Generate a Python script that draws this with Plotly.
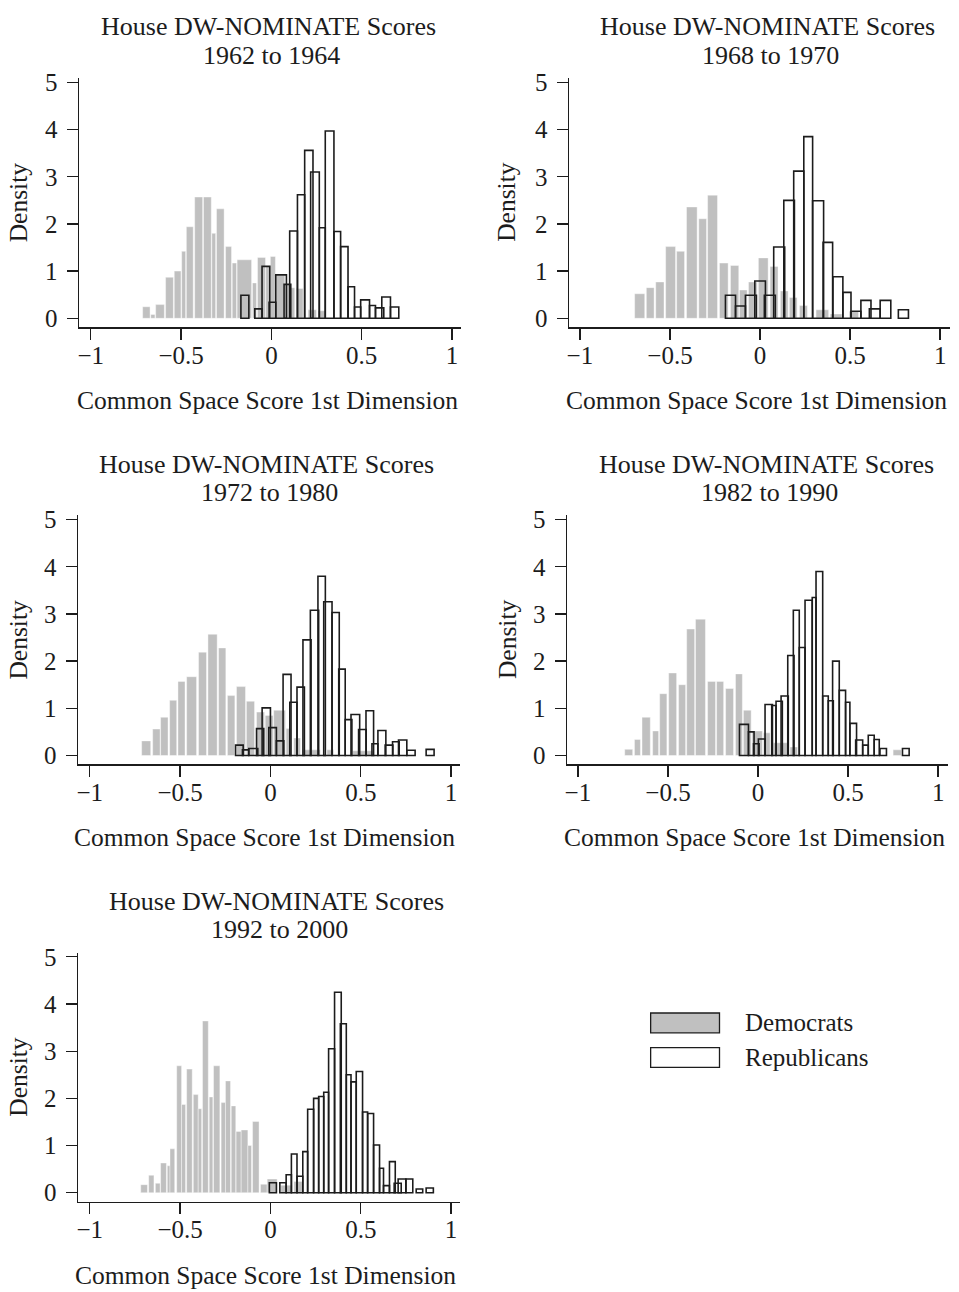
import plotly.graph_objects as go

W, H = 959, 1292
FONT = "Liberation Serif"
FS = 25
FS_TITLE = 26

TITLE = "House DW-NOMINATE Scores"
PERIODS = ["1962 to 1964", "1968 to 1970", "1972 to 1980", "1982 to 1990", "1992 to 2000"]
X_TITLE = "Common Space Score 1st Dimension"
Y_TITLE = "Density"
X_TICKS = [-1, -0.5, 0, 0.5, 1]
X_TICK_TEXT = ["\u22121", "\u22120.5", "0", "0.5", "1"]
Y_TICKS = [0, 1, 2, 3, 4, 5]
LEGEND_NAMES = ["Democrats", "Republicans"]

# (bin left, bin right, density)
DEM_1962 = [(-0.713, -0.672, 0.245), (-0.668, -0.645, 0.08), (-0.641, -0.593, 0.29), (-0.586, -0.543, 0.87),
            (-0.538, -0.501, 1.00), (-0.497, -0.475, 1.42), (-0.471, -0.433, 1.94), (-0.425, -0.381, 2.57),
            (-0.376, -0.333, 2.57), (-0.330, -0.309, 1.80), (-0.304, -0.262, 2.32), (-0.254, -0.221, 1.52),
            (-0.217, -0.193, 1.17), (-0.190, -0.110, 1.24), (-0.105, -0.083, 0.75), (-0.077, -0.033, 1.29),
            (-0.031, -0.006, 1.10), (-0.006, 0.022, 1.31), (0.026, 0.074, 0.91), (0.074, 0.101, 0.72),
            (0.101, 0.129, 0.65), (0.138, 0.175, 0.63), (0.203, 0.249, 0.18), (0.258, 0.298, 0.16)]
REP_1962 = [(-0.169, -0.125, 0.49), (-0.092, -0.052, 0.20), (-0.052, -0.009, 1.10), (-0.013, 0.024, 0.34),
            (0.024, 0.083, 0.92), (0.070, 0.107, 0.72), (0.101, 0.144, 1.85), (0.144, 0.184, 2.62),
            (0.184, 0.230, 3.56), (0.217, 0.265, 3.10), (0.265, 0.298, 1.92), (0.298, 0.346, 3.97),
            (0.346, 0.383, 1.84), (0.383, 0.424, 1.52), (0.424, 0.460, 0.67), (0.460, 0.494, 0.24),
            (0.494, 0.543, 0.39), (0.543, 0.576, 0.27), (0.576, 0.622, 0.22), (0.611, 0.659, 0.45),
            (0.659, 0.705, 0.24)]

DEM_1968 = [(-0.696, -0.640, 0.52), (-0.631, -0.588, 0.65), (-0.579, -0.533, 0.77), (-0.524, -0.469, 1.52),
            (-0.463, -0.419, 1.42), (-0.408, -0.349, 2.36), (-0.340, -0.297, 2.11), (-0.291, -0.236, 2.61),
            (-0.225, -0.177, 1.17), (-0.164, -0.118, 1.12), (-0.114, -0.072, 0.60), (-0.064, -0.016, 0.77),
            (-0.009, 0.045, 1.28), (0.056, 0.100, 1.10), (0.113, 0.156, 0.58), (0.163, 0.206, 0.44),
            (0.219, 0.263, 0.27), (0.311, 0.381, 0.18), (0.390, 0.455, 0.09), (0.495, 0.547, 0.15)]
REP_1968 = [(-0.192, -0.136, 0.49), (-0.136, -0.081, 0.26), (-0.081, -0.020, 0.49), (-0.029, 0.030, 0.79),
            (0.024, 0.085, 0.49), (0.076, 0.137, 1.51), (0.132, 0.191, 2.50), (0.187, 0.243, 3.12),
            (0.243, 0.292, 3.85), (0.292, 0.353, 2.49), (0.350, 0.403, 1.61), (0.405, 0.460, 0.88),
            (0.460, 0.505, 0.55), (0.505, 0.560, 0.15), (0.560, 0.616, 0.38), (0.607, 0.667, 0.20),
            (0.667, 0.726, 0.38), (0.768, 0.824, 0.18)]

DEM_1972 = [(-0.713, -0.663, 0.31), (-0.652, -0.611, 0.56), (-0.608, -0.567, 0.81), (-0.558, -0.519, 1.17),
            (-0.512, -0.473, 1.57), (-0.464, -0.409, 1.67), (-0.398, -0.354, 2.19), (-0.346, -0.295, 2.57),
            (-0.287, -0.247, 2.28), (-0.238, -0.197, 1.27), (-0.188, -0.138, 1.46), (-0.133, -0.088, 1.15),
            (-0.077, -0.033, 0.92), (-0.029, 0.015, 0.85), (0.018, 0.083, 0.96), (0.087, 0.114, 0.57),
            (0.129, 0.166, 0.37), (0.175, 0.276, 0.12), (0.313, 0.350, 0.12), (0.455, 0.571, 0.10)]
REP_1972 = [(-0.193, -0.151, 0.22), (-0.155, -0.120, 0.12), (-0.120, -0.070, 0.15), (-0.077, -0.037, 0.57),
            (-0.046, 0.000, 1.01), (-0.009, 0.033, 0.59), (0.033, 0.074, 0.31), (0.070, 0.114, 1.72),
            (0.107, 0.147, 1.13), (0.147, 0.188, 1.45), (0.180, 0.225, 2.45), (0.221, 0.267, 3.08),
            (0.263, 0.304, 3.80), (0.295, 0.341, 3.26), (0.341, 0.381, 3.03), (0.378, 0.414, 1.83),
            (0.414, 0.451, 0.76), (0.446, 0.494, 0.87), (0.488, 0.530, 0.55), (0.529, 0.571, 0.95),
            (0.562, 0.595, 0.25), (0.595, 0.639, 0.53), (0.635, 0.678, 0.22), (0.676, 0.713, 0.29),
            (0.709, 0.755, 0.33), (0.755, 0.801, 0.11), (0.862, 0.906, 0.13)]

DEM_1982 = [(-0.740, -0.696, 0.13), (-0.686, -0.653, 0.34), (-0.644, -0.598, 0.81), (-0.585, -0.552, 0.52),
            (-0.546, -0.506, 1.31), (-0.496, -0.452, 1.75), (-0.441, -0.402, 1.50), (-0.396, -0.352, 2.68),
            (-0.347, -0.292, 2.89), (-0.280, -0.236, 1.57), (-0.230, -0.191, 1.57), (-0.180, -0.136, 1.42),
            (-0.125, -0.087, 1.73), (-0.081, -0.038, 0.96), (-0.033, 0.024, 0.52), (0.030, 0.067, 0.48),
            (0.085, 0.163, 0.27), (0.178, 0.219, 0.18), (0.750, 0.796, 0.12)]
REP_1982 = [(-0.103, -0.053, 0.66), (-0.053, -0.022, 0.50), (-0.025, 0.006, 0.25), (0.002, 0.039, 0.35),
            (0.039, 0.080, 1.08), (0.076, 0.100, 1.06), (0.100, 0.135, 1.15), (0.128, 0.168, 1.26),
            (0.165, 0.200, 2.12), (0.196, 0.229, 3.08), (0.229, 0.261, 2.29), (0.261, 0.301, 3.29),
            (0.301, 0.322, 3.35), (0.322, 0.359, 3.90), (0.359, 0.390, 1.26), (0.390, 0.418, 1.16),
            (0.414, 0.451, 2.00), (0.451, 0.486, 1.38), (0.486, 0.510, 1.13), (0.510, 0.547, 0.68),
            (0.542, 0.581, 0.33), (0.581, 0.612, 0.22), (0.612, 0.645, 0.43), (0.645, 0.673, 0.34),
            (0.677, 0.713, 0.15), (0.802, 0.839, 0.15)]

DEM_1992 = [(-0.718, -0.681, 0.17), (-0.674, -0.645, 0.37), (-0.637, -0.611, 0.20), (-0.608, -0.576, 0.63),
            (-0.571, -0.556, 0.57), (-0.556, -0.530, 0.93), (-0.519, -0.492, 2.69), (-0.492, -0.470, 1.87),
            (-0.464, -0.433, 2.62), (-0.427, -0.400, 2.08), (-0.400, -0.381, 1.78), (-0.376, -0.344, 3.64),
            (-0.339, -0.319, 2.03), (-0.315, -0.280, 2.69), (-0.273, -0.249, 1.91), (-0.249, -0.221, 2.37),
            (-0.217, -0.192, 1.84), (-0.190, -0.162, 1.30), (-0.162, -0.125, 1.33), (-0.125, -0.105, 1.00),
            (-0.099, -0.063, 1.51), (-0.055, -0.018, 0.18), (-0.018, 0.037, 0.29), (0.057, 0.120, 0.16),
            (0.130, 0.179, 0.24)]
REP_1992 = [(-0.006, 0.033, 0.21), (0.052, 0.087, 0.21), (0.087, 0.116, 0.38), (0.116, 0.147, 0.82),
            (0.147, 0.179, 0.35), (0.179, 0.206, 0.87), (0.206, 0.239, 1.77), (0.239, 0.267, 2.00),
            (0.267, 0.295, 2.04), (0.295, 0.322, 2.13), (0.322, 0.355, 3.05), (0.355, 0.392, 4.25),
            (0.387, 0.420, 3.58), (0.420, 0.446, 2.50), (0.446, 0.475, 2.35), (0.475, 0.510, 2.57),
            (0.510, 0.538, 1.71), (0.538, 0.571, 1.68), (0.571, 0.604, 1.01), (0.604, 0.626, 0.52),
            (0.626, 0.659, 0.15), (0.659, 0.691, 0.66), (0.685, 0.724, 0.20), (0.707, 0.750, 0.29),
            (0.750, 0.788, 0.29), (0.807, 0.843, 0.08), (0.862, 0.902, 0.10)]

DEM_SERIES = [DEM_1962, DEM_1968, DEM_1972, DEM_1982, DEM_1992]
REP_SERIES = [REP_1962, REP_1968, REP_1972, REP_1982, REP_1992]

# ---------- layout geometry (pixels) ----------
# plot boxes: (left, right, top, bottom)
BOXES = [(77, 460, 70, 321.7), (568, 950, 70, 321.7),
         (76, 459, 512, 763.7), (566, 948, 512, 763.7),
         (76, 459, 954, 1205.7)]
X_RANGES = [(-1.0663, 1.0497), (-1.0615, 1.0548), (-1.0663, 1.0497), (-1.0615, 1.0548), (-1.0663, 1.0497)]
Y_RANGE = (-0.189, 5.088)
TITLE_X = [267, 767, 265, 766, 275]
XLAB_X = [266.5, 756.5, 263.5, 754.5, 264.5]
YLAB_X = [16.5, 506, 16.5, 506, 16.5]

GRAY = "#c0c0c0"
INK = "#1c1c1c"


def px(x):
    return x / W


def py(y):
    return 1 - y / H


fig = go.Figure()
layout = dict(width=W, height=H, margin=dict(l=0, r=0, t=0, b=0),
              paper_bgcolor="white", plot_bgcolor="white", barmode="overlay",
              showlegend=False, font=dict(family=FONT, size=FS, color=INK))
annotations = []
shapes = []

for i in range(5):
    sfx = "" if i == 0 else str(i + 1)
    xa, ya = "x" + sfx, "y" + sfx
    l, r, t, b = BOXES[i]
    layout["xaxis" + sfx] = dict(domain=[px(l), px(r)], range=list(X_RANGES[i]), anchor=ya,
                                 showline=True, linecolor=INK, linewidth=1.3, mirror=False,
                                 ticks="outside", ticklen=11, tickwidth=1.3, tickcolor=INK,
                                 tickvals=X_TICKS, ticktext=X_TICK_TEXT, showgrid=False, zeroline=False,
                                 tickfont=dict(family=FONT, size=FS, color=INK),
                                 ticklabelstandoff=-6, fixedrange=True)
    layout["yaxis" + sfx] = dict(domain=[py(b), py(t)], range=list(Y_RANGE), anchor=xa,
                                 showline=True, linecolor=INK, linewidth=1.3,
                                 ticks="outside", ticklen=11, tickwidth=1.3, tickcolor=INK,
                                 tickvals=Y_TICKS, showgrid=False, zeroline=False,
                                 tickfont=dict(family=FONT, size=FS, color=INK),
                                 ticklabelstandoff=4, fixedrange=True)

    dem = DEM_SERIES[i]
    fig.add_trace(go.Bar(x=[(a + c) / 2 for a, c, _ in dem], y=[d for _, _, d in dem],
                         width=[c - a for a, c, _ in dem], base=0,
                         marker=dict(color=GRAY, line=dict(color="white", width=0.4)),
                         xaxis=xa, yaxis=ya, name=LEGEND_NAMES[0], hoverinfo="skip"))
    rep = REP_SERIES[i]
    fig.add_trace(go.Bar(x=[(a + c) / 2 for a, c, _ in rep], y=[d for _, _, d in rep],
                         width=[c - a for a, c, _ in rep], base=0,
                         marker=dict(color="rgba(0,0,0,0)", line=dict(color=INK, width=1.6)),
                         xaxis=xa, yaxis=ya, name=LEGEND_NAMES[1], hoverinfo="skip"))

    dy = 442 * (i // 2)
    annotations.append(dict(text=TITLE, x=px(TITLE_X[i]), y=py(18 + dy), xref="paper", yref="paper",
                            showarrow=False, xanchor="center", yanchor="middle",
                            font=dict(family=FONT, size=FS_TITLE, color=INK)))
    annotations.append(dict(text=PERIODS[i], x=px(TITLE_X[i] + 3), y=py(47 + dy), xref="paper", yref="paper",
                            showarrow=False, xanchor="center", yanchor="middle",
                            font=dict(family=FONT, size=FS_TITLE, color=INK)))
    annotations.append(dict(text=X_TITLE, x=px(XLAB_X[i]), y=py(396 + dy), xref="paper", yref="paper",
                            showarrow=False, xanchor="center", yanchor="middle",
                            font=dict(family=FONT, size=25.5, color=INK)))
    annotations.append(dict(text=Y_TITLE, x=px(YLAB_X[i]), y=py(195 + dy), xref="paper", yref="paper",
                            showarrow=False, xanchor="center", yanchor="middle", textangle=-90,
                            font=dict(family=FONT, size=25.5, color=INK)))

# legend
LEG_Y = [1025, 1060]
LEG_FILL = [GRAY, "white"]
for k in range(2):
    shapes.append(dict(type="rect", xref="paper", yref="paper",
                       x0=px(650), x1=px(719), y0=py(LEG_Y[k] + 10), y1=py(LEG_Y[k] - 10),
                       fillcolor=LEG_FILL[k], line=dict(color=INK, width=1.3)))
    annotations.append(dict(text=LEGEND_NAMES[k], x=px(743), y=py(LEG_Y[k]), xref="paper", yref="paper",
                            showarrow=False, xanchor="left", yanchor="middle"))

layout["annotations"] = annotations
layout["shapes"] = shapes
fig.update_layout(**layout)
fig.write_html("out.html", config={"displayModeBar": False, "staticPlot": True},
               post_script="document.body.style.margin='0';document.body.style.padding='0';"
                           "document.body.style.overflow='hidden';")
